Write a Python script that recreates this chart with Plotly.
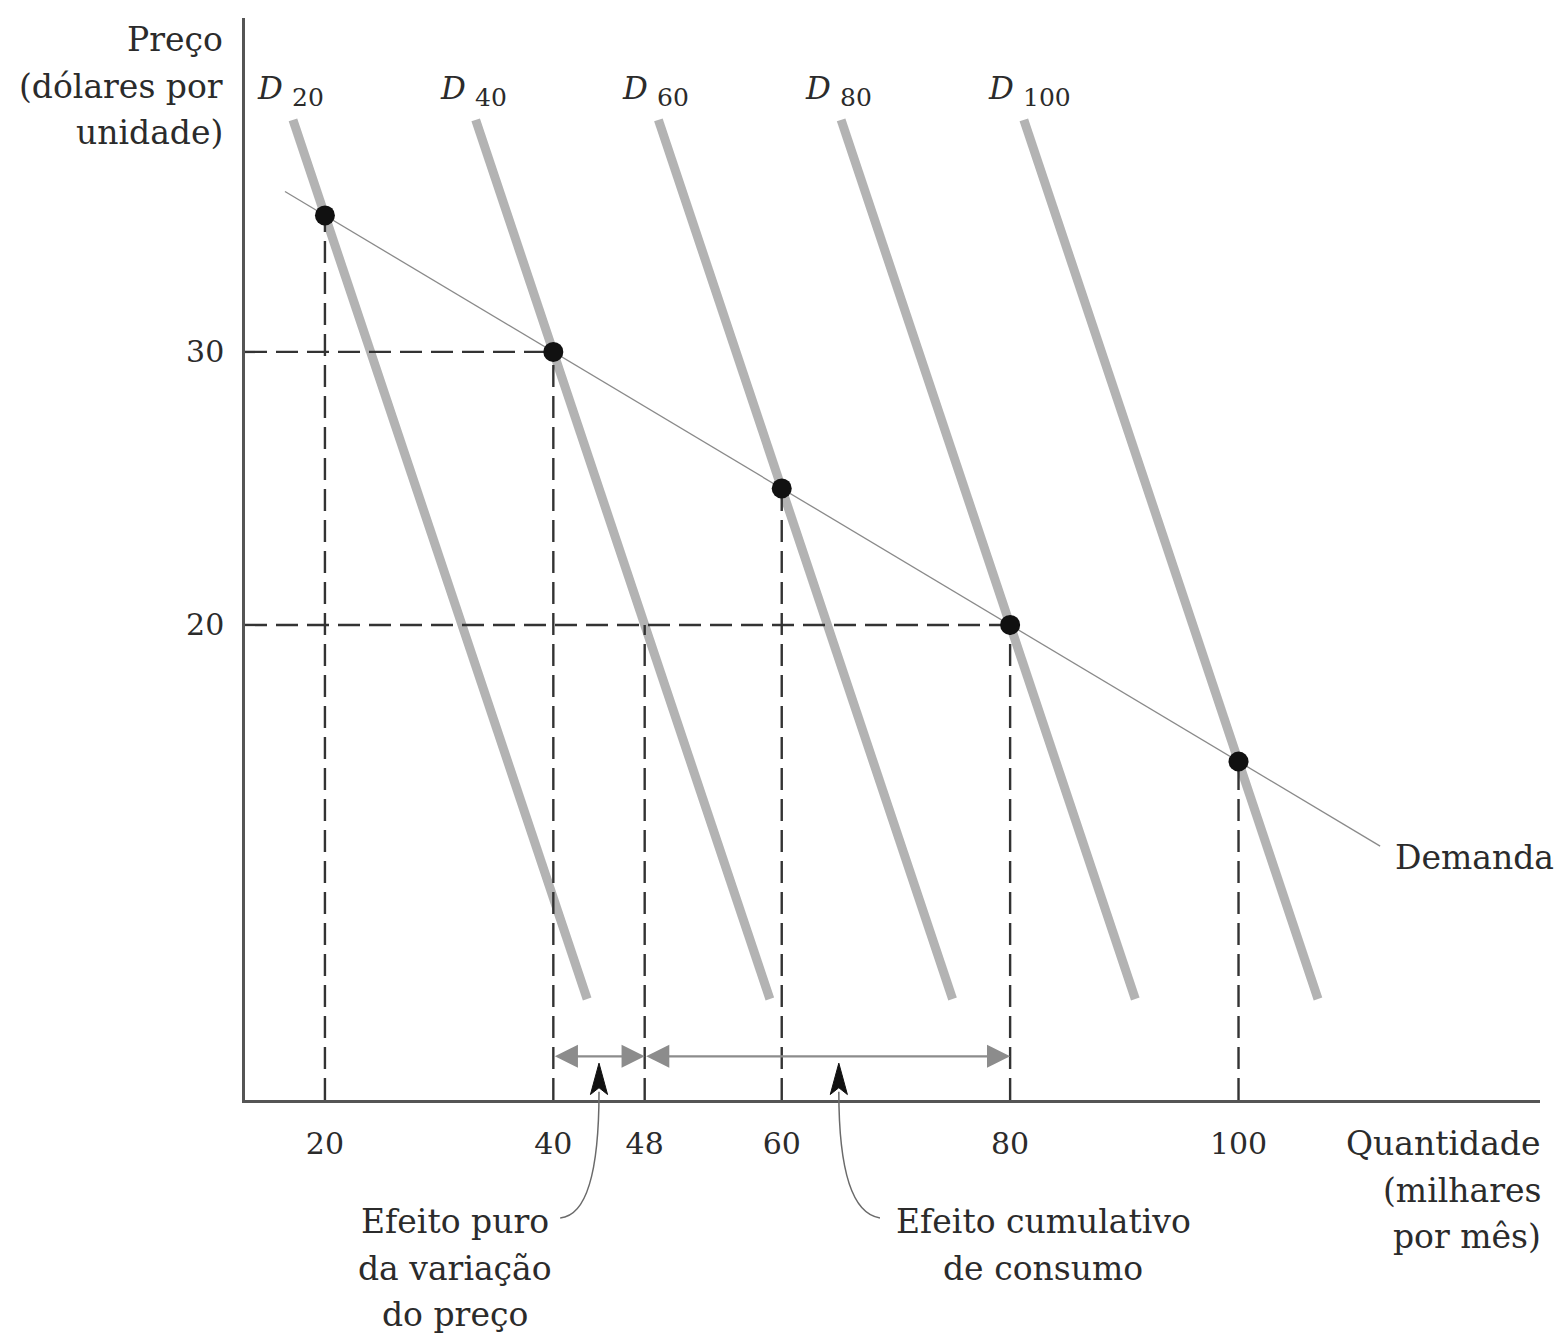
import plotly.graph_objects as go

# --- data -------------------------------------------------------------
demand_q = [20, 40, 60, 80, 100]          # thousands per month
demand_p = [35, 30, 25, 20, 15]           # dollars per unit
curve_names = ["20", "40", "60", "80", "100"]
curve_slope = 1.25                        # dP/dQ along each D_n curve (D40 hits 48 at $20)
curve_p_top = 38.5
curve_p_bottom = 6.3
demand_line_q = [16.5, 112.4]

x_ticks = [20, 40, 48, 60, 80, 100]
y_ticks = [20, 30]

pure_effect = (40, 48)
cumulative_effect = (48, 80)
arrow_p = 4.2

# --- axis ranges ------------------------------------------------------
XMIN, XMAX = 13.0, 126.4
YMIN, YMAX = 2.6, 42.23
PX_PER_P = 27.3          # vertical pixels per dollar, used for text line spacing

FONT = "DejaVu Serif"
TEXT = "#2b2b2b"
AXIS = "#555555"


def xp(q):
    return (q - XMIN) / (XMAX - XMIN)


def yp(p):
    return (p - YMIN) / (YMAX - YMIN)


fig = go.Figure()

# thick grey demand curves D20 ... D100
curve_tops = []
for q, p in zip(demand_q, demand_p):
    q_top = q - (curve_p_top - p) / curve_slope
    q_bot = q + (p - curve_p_bottom) / curve_slope
    curve_tops.append(q_top)
    fig.add_trace(go.Scatter(x=[q_top, q_bot], y=[curve_p_top, curve_p_bottom],
                             mode="lines", line=dict(color="#b3b3b3", width=9),
                             hoverinfo="skip", showlegend=False))

# thin market demand line
demand_line_p = [40 - q / 4 for q in demand_line_q]
fig.add_trace(go.Scatter(x=demand_line_q, y=demand_line_p, mode="lines",
                         line=dict(color="#8a8a8a", width=1.3),
                         hoverinfo="skip", showlegend=False))

# dashed guide lines
dash = dict(color="#333333", width=2.4, dash="22px,9px")
for q, p in zip(demand_q, demand_p):
    fig.add_trace(go.Scatter(x=[q, q], y=[YMIN, p], mode="lines", line=dash,
                             hoverinfo="skip", showlegend=False))
fig.add_trace(go.Scatter(x=[48, 48], y=[YMIN, 20], mode="lines", line=dash,
                         hoverinfo="skip", showlegend=False))
for q, p in [(40, 30), (80, 20)]:
    fig.add_trace(go.Scatter(x=[XMIN, q], y=[p, p], mode="lines", line=dash,
                             hoverinfo="skip", showlegend=False))

# equilibrium points
fig.add_trace(go.Scatter(x=demand_q, y=demand_p, mode="markers",
                         marker=dict(color="#111111", size=20),
                         hoverinfo="skip", showlegend=False))

annotations = []

# curve labels: italic D followed by a lowered index
for q_top, name in zip(curve_tops, curve_names):
    annotations.append(dict(x=q_top, y=39.68, xref="x", yref="y", xshift=-8,
                            text="<i>D</i>", showarrow=False,
                            xanchor="right", yanchor="middle",
                            font=dict(family=FONT, size=31, color=TEXT)))
    annotations.append(dict(x=q_top, y=39.33, xref="x", yref="y", xshift=-3,
                            text=name, showarrow=False,
                            xanchor="left", yanchor="middle",
                            font=dict(family=FONT, size=25, color=TEXT)))

# double-headed effect arrows
for a, b in [pure_effect, cumulative_effect]:
    annotations.append(dict(x=b, y=arrow_p, ax=a, ay=arrow_p, xref="x", yref="y",
                            axref="x", ayref="y", text="", showarrow=True,
                            arrowhead=2, arrowside="end+start", arrowsize=2.1,
                            arrowwidth=2.2, arrowcolor="#8c8c8c", standoff=0,
                            startstandoff=0))


def text_block(lines, x, xref, p_first, xanchor, line_gap_px=46.5):
    """One annotation per line so the line spacing follows the drawing."""
    out = []
    for i, line in enumerate(lines):
        p = p_first - i * line_gap_px / PX_PER_P
        out.append(dict(x=x, y=yp(p), xref=xref, yref="paper", xanchor=xanchor,
                        yanchor="middle", showarrow=False, text=line,
                        font=dict(family=FONT, size=33, color=TEXT)))
    return out


# price axis title
annotations += text_block(["Preço", "(dólares por", "unidade)"],
                          -20 / 1295, "paper", 41.43, "right")
# quantity axis title
annotations += text_block(["Quantidade", "(milhares", "por mês)"],
                          1.002, "paper", 1.0, "right")
annotations += text_block(["Efeito puro", "da variação", "do preço"],
                          31.4, "x", -1.85, "center")
annotations += text_block(["Efeito cumulativo", "de consumo"],
                          82.9, "x", -1.85, "center")
annotations.append(dict(x=113.5, y=11.5, xref="x", yref="y", xanchor="left",
                        yanchor="middle", showarrow=False, text="Demanda",
                        font=dict(family=FONT, size=33, color=TEXT)))

# curved leaders from the labels up to the effect arrows
shapes = []
leaders = [
    # (start q, start p, control q, control p, tip q)
    (40.6, -1.72, 44.0, -1.6, 44.0),
    (68.6, -1.72, 65.0, -1.5, 65.0),
]
tip_p, base_p = 3.95, 2.9
for sq, sp, cq, cp, tq in leaders:
    path = (f"M {xp(sq):.5f},{yp(sp):.5f} Q {xp(cq):.5f},{yp(cp):.5f} "
            f"{xp(tq):.5f},{yp(base_p):.5f}")
    shapes.append(dict(type="path", path=path, xref="paper", yref="paper",
                       line=dict(color="#6a6a6a", width=1.5)))
    hw = 0.75
    head = (f"M {xp(tq):.5f},{yp(tip_p):.5f} L {xp(tq - hw):.5f},{yp(base_p - 0.1):.5f} "
            f"L {xp(tq):.5f},{yp(base_p + 0.15):.5f} L {xp(tq + hw):.5f},{yp(base_p - 0.1):.5f} Z")
    shapes.append(dict(type="path", path=head, xref="paper", yref="paper",
                       fillcolor="#111111", line=dict(color="#111111", width=1)))

fig.update_layout(
    width=1564, height=1334,
    margin=dict(l=245, r=24, t=18, b=234),
    paper_bgcolor="white", plot_bgcolor="white",
    annotations=annotations, shapes=shapes,
    showlegend=False,
    xaxis=dict(range=[XMIN, XMAX], tickvals=x_ticks, ticktext=[str(v) for v in x_ticks],
               showgrid=False, zeroline=False, showline=True, linecolor=AXIS, linewidth=2.5,
               ticks="", ticklabelstandoff=15,
               tickfont=dict(family=FONT, size=30, color=TEXT)),
    yaxis=dict(range=[YMIN, YMAX], tickvals=y_ticks, ticktext=[str(v) for v in y_ticks],
               showgrid=False, zeroline=False, showline=True, linecolor=AXIS, linewidth=2.5,
               ticks="", ticklabelstandoff=12,
               tickfont=dict(family=FONT, size=30, color=TEXT)),
)

fig.write_html("out.html")
